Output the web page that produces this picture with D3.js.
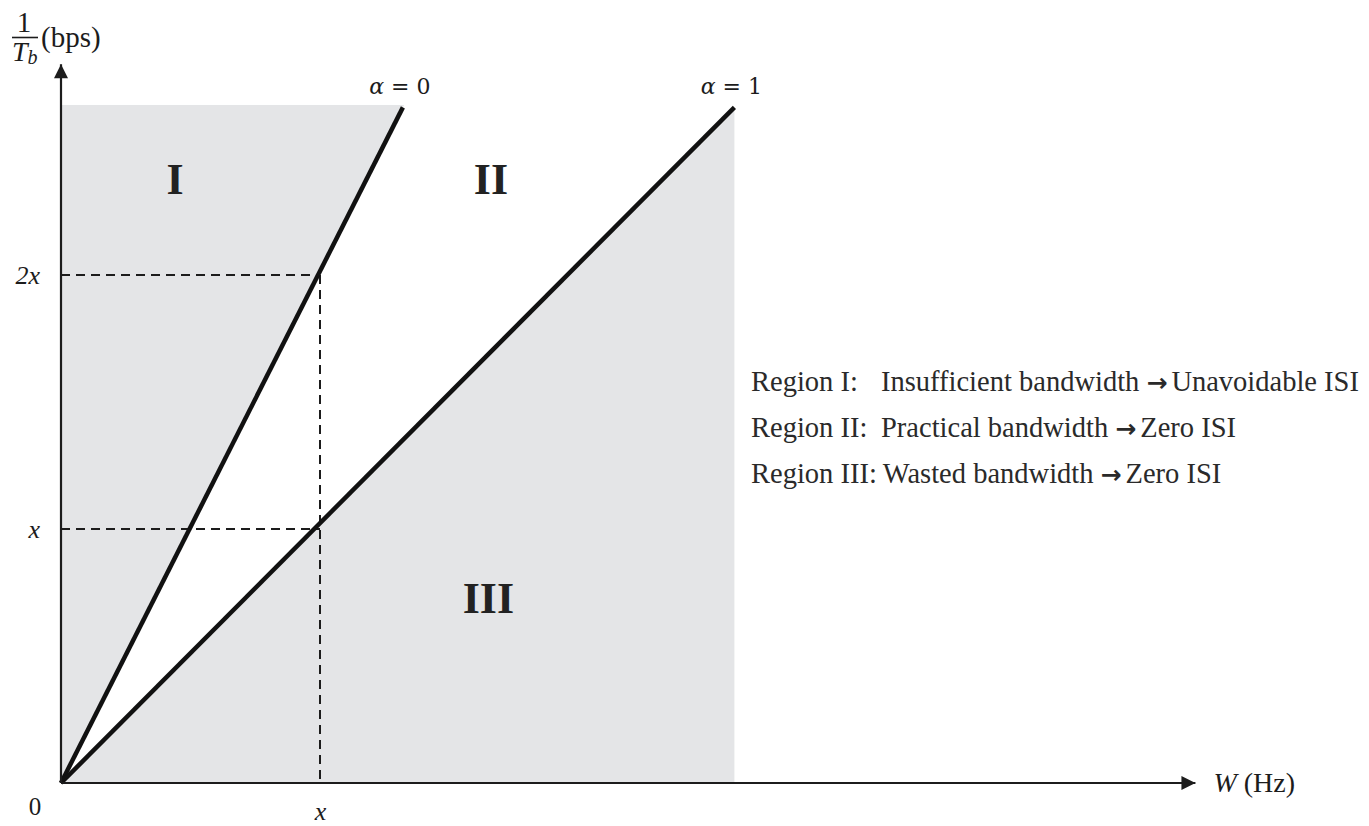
<!DOCTYPE html>
<html>
<head>
<meta charset="utf-8">
<script src="https://cdn.jsdelivr.net/npm/d3@7"></script>
<style>
  html, body { margin: 0; padding: 0; background: #fff; }
  svg { display: block; }
</style>
</head>
<body>
<svg id="chart" width="1369" height="826"></svg>
<script>
// ---- data ----
const yTickValues = [1, 2];
const yTickLabels = ["x", "2x"];
const xTickValues = [1];
const xTickLabels = ["x"];
const alpha0Line = [[0, 0], [1.32, 2.66]];   // α = 0 : R = 2W
const alpha1Line = [[0, 0], [2.6, 2.66]];    // α = 1 : R ≈ W
const shadeMaxW = 2.6;
const shadeMaxR = 2.67;
const axisMaxW = 4.38;
const axisMaxR = 2.83;
const lineLabelValues = ["0", "1"];
const regionNames = ["I", "II", "III"];
const regionAnchors = [[0.44, 2.32], [1.66, 2.32], [1.65, 0.67]];
const legendHeads = ["Region I:", "Region II:", "Region III:"];
const legendLeft = ["Insufficient bandwidth", "Practical bandwidth", "Wasted bandwidth"];
const legendRight = ["Unavoidable ISI", "Zero ISI", "Zero ISI"];

// ---- scales ----
const x = d3.scaleLinear().domain([0, 1]).range([61, 320]);
const y = d3.scaleLinear().domain([0, 1]).range([783, 529]);

const svg = d3.select("#chart");
const serif = "'Liberation Serif', 'Times New Roman', serif";
const mathFont = "'DejaVu Serif', serif";
const ink = "#1c1c1c";

const defs = svg.append("defs");
defs.append("marker").attr("id", "arrow")
  .attr("viewBox", "0 0 10 10").attr("refX", 10).attr("refY", 5)
  .attr("markerWidth", 16).attr("markerHeight", 14)
  .attr("markerUnits", "userSpaceOnUse")
  .attr("orient", "auto")
  .append("path").attr("d", "M0,0 L10,5 L0,10 Z").attr("fill", ink);

// shaded area
svg.append("rect")
  .attr("x", x(0)).attr("y", y(shadeMaxR))
  .attr("width", x(shadeMaxW) - x(0)).attr("height", y(0) - y(shadeMaxR))
  .attr("fill", "#e4e5e7");

// white wedge between lines (region II)
const top0 = alpha0Line[1], top1 = alpha1Line[1];
svg.append("path")
  .attr("d", d3.line()([[x(0), y(0)], [x(top0[0] * shadeMaxR / top0[1]), y(shadeMaxR)],
                        [x(top1[0] * shadeMaxR / top1[1]), y(shadeMaxR)]]) + "Z")
  .attr("fill", "#ffffff");
svg.append("rect").attr("x", x(0)).attr("y", 0)
  .attr("width", x(shadeMaxW) - x(0) + 2).attr("height", y(shadeMaxR)).attr("fill", "#fff");

// dashed guide lines
const dash = svg.append("g").attr("stroke", ink).attr("stroke-width", 2)
  .attr("stroke-dasharray", "9,6").attr("fill", "none");
dash.append("line").attr("x1", x(0)).attr("x2", x(xTickValues[0])).attr("y1", y(yTickValues[1])).attr("y2", y(yTickValues[1]));
dash.append("line").attr("x1", x(0)).attr("x2", x(xTickValues[0])).attr("y1", y(yTickValues[0])).attr("y2", y(yTickValues[0]));
dash.append("line").attr("x1", x(xTickValues[0])).attr("x2", x(xTickValues[0])).attr("y1", y(yTickValues[1])).attr("y2", y(0));

// alpha lines
const lineGen = d3.line().x(d => x(d[0])).y(d => y(d[1]));
[alpha0Line, alpha1Line].forEach(L => {
  svg.append("path").attr("d", lineGen(L))
    .attr("stroke", "#111").attr("stroke-width", 4.5).attr("fill", "none");
});

// axes lines with arrows
svg.append("line").attr("x1", x(0)).attr("y1", y(0)).attr("x2", x(axisMaxW)).attr("y2", y(0))
  .attr("stroke", ink).attr("stroke-width", 2.2).attr("marker-end", "url(#arrow)");
svg.append("line").attr("x1", x(0)).attr("y1", y(0)).attr("x2", x(0)).attr("y2", y(axisMaxR))
  .attr("stroke", ink).attr("stroke-width", 2.2).attr("marker-end", "url(#arrow)");

// tick labels via d3 axes
const yAxis = svg.append("g").attr("transform", `translate(${x(0) - 8},0)`)
  .call(d3.axisLeft(y).tickValues(yTickValues).tickSize(0)
    .tickFormat((d, i) => yTickLabels[i]));
yAxis.select(".domain").remove();
yAxis.selectAll("text").attr("font-family", serif).attr("font-style", "italic")
  .attr("font-size", 26).attr("fill", ink).attr("dx", "-10");

const xAxis = svg.append("g").attr("transform", `translate(0,${y(0) + 11})`)
  .call(d3.axisBottom(x).tickValues(xTickValues).tickSize(0)
    .tickFormat((d, i) => xTickLabels[i]));
xAxis.select(".domain").remove();
xAxis.selectAll("text").attr("font-family", serif).attr("font-style", "italic")
  .attr("font-size", 26).attr("fill", ink).attr("dy", "0.9em");

// origin label
svg.append("text").attr("x", x(0) - 26).attr("y", y(0) + 32)
  .attr("text-anchor", "middle").attr("font-family", serif).attr("font-size", 25)
  .attr("fill", ink).text("0");

// y axis title: 1/T_b (bps)
const yt = svg.append("g").attr("font-family", serif).attr("fill", ink);
yt.append("text").attr("x", 24).attr("y", 32).attr("text-anchor", "middle")
  .attr("font-size", 29).text("1");
yt.append("line").attr("x1", 12).attr("x2", 38).attr("y1", 37.5).attr("y2", 37.5)
  .attr("stroke", ink).attr("stroke-width", 1.6);
const tb = yt.append("text").attr("x", 12).attr("y", 61).attr("font-size", 28).attr("font-style", "italic");
tb.append("tspan").text("T");
tb.append("tspan").attr("font-size", 20).attr("dy", 3).text("b");
yt.append("text").attr("x", 41).attr("y", 47).attr("font-size", 29).text("(bps)");

// x axis title
const xt = svg.append("text").attr("x", x(axisMaxW) + 18).attr("y", y(0) + 9)
  .attr("font-family", serif).attr("font-size", 28).attr("fill", ink);
xt.append("tspan").attr("font-style", "italic").text("W");
xt.append("tspan").text(" (Hz)");

// line labels
[alpha0Line, alpha1Line].forEach((L, i) => {
  const t = svg.append("text").attr("x", x(L[1][0]) - 3).attr("y", y(L[1][1]) - 13)
    .attr("text-anchor", "middle").attr("font-family", mathFont)
    .attr("font-size", 22).attr("fill", ink);
  t.append("tspan").attr("font-style", "italic").text("α");
  t.append("tspan").text(" = " + lineLabelValues[i]);
});

// region labels
regionNames.forEach((n, i) => {
  svg.append("text").attr("x", x(regionAnchors[i][0])).attr("y", y(regionAnchors[i][1]))
    .attr("text-anchor", "middle").attr("font-family", serif).attr("font-weight", "bold")
    .attr("font-size", 44).attr("fill", "#222").text(n);
});

// legend
const lg = svg.append("g").attr("font-family", serif).attr("font-size", 28.5).attr("fill", "#2a2a2a");
legendHeads.forEach((h, i) => {
  const t = lg.append("text").attr("x", 751).attr("y", 391 + i * 46);
  t.append("tspan").text(h);
  const body = t.append("tspan");
  if (i < 2) body.attr("x", 881); else body.attr("dx", 6);
  body.text(legendLeft[i] + " ");
  t.append("tspan").attr("font-family", "'DejaVu Sans', sans-serif").attr("font-weight", "bold")
    .attr("font-size", 25).text("\u2192");
  t.append("tspan").text(legendRight[i]).attr("dx", 4);
});
</script>
</body>
</html>
